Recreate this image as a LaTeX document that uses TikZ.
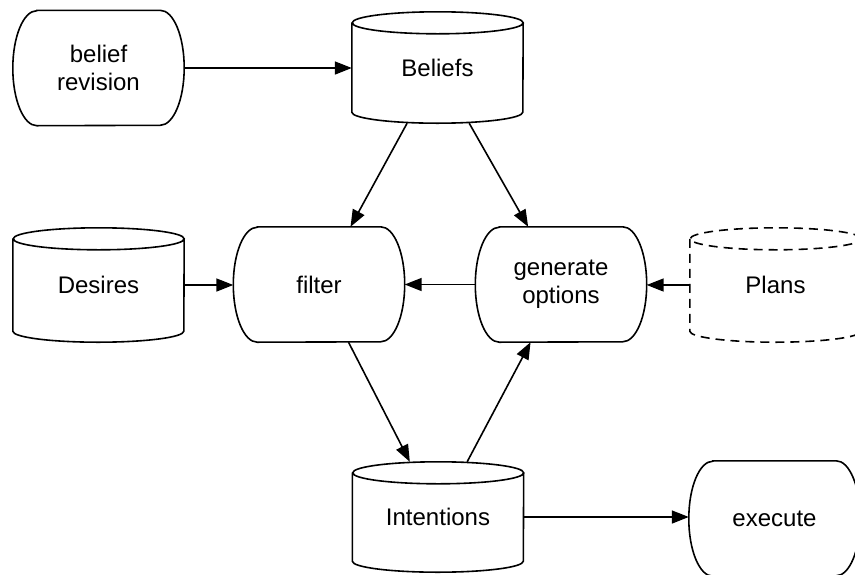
\documentclass[tikz,border=0pt]{standalone}
\usepackage{fontspec}
\setmainfont{Liberation Sans}
\usetikzlibrary{arrows.meta}
\newcommand\cylshape[2][]{\draw[line width=1.6pt,#1] ([yshift=-11pt]#2.north west) -- ([yshift=11pt]#2.south west) arc[start angle=180,end angle=360,x radius=85.5pt,y radius=11pt] -- ([yshift=-11pt]#2.north east) arc[start angle=0,end angle=360,x radius=85.5pt,y radius=11pt];}
\newcommand\procshape[1]{\draw[line width=1.6pt] ([xshift=24pt]#1.north west) -- ([xshift=-24pt]#1.north east) arc[start angle=90,end angle=-90,x radius=24pt,y radius=57.5pt] -- ([xshift=24pt]#1.south west) arc[start angle=270,end angle=90,x radius=24pt,y radius=57.5pt] -- cycle;}
\begin{document}
\begin{tikzpicture}[x=1pt,y=1pt,
  every node/.style={font=\fontsize{24}{28}\selectfont, align=center},
  blk/.style={minimum width=171pt, minimum height=115pt, inner sep=0pt},
  cylblk/.style={minimum width=171pt, inner sep=0pt},
  arr/.style={line width=1.6pt, -{Triangle[length=17pt,width=13pt]}},
]
\useasboundingbox (0,0) rectangle (855,-574);
\node[blk] (br) at (98.5,-68) {belief\\revision};
\node[cylblk, minimum height=111pt] (beliefs) at (437.5,-67.5) {\raisebox{-4.5pt}{Beliefs}};
\node[cylblk, minimum height=114pt] (desires) at (98.5,-285) {\raisebox{-4.5pt}{Desires}};
\node[blk] (filter) at (319,-284.5) {filter};
\node[blk] (gen) at (561,-284.5) {generate\\options};
\node[cylblk, minimum height=114pt] (plans) at (775.5,-285) {\raisebox{-4.5pt}{Plans}};
\node[cylblk, minimum height=110pt] (int) at (438,-517) {\raisebox{-4.5pt}{Intentions}};
\node[blk] (exec) at (774.5,-518.5) {execute};

\procshape{br}
\procshape{filter}
\procshape{gen}
\procshape{exec}
\cylshape{beliefs}
\cylshape{desires}
\cylshape{int}
\cylshape[dash pattern=on 9pt off 6pt]{plans}

\draw[arr] (br.east) -- (br.east -| beliefs.west);
\draw[arr] (beliefs) -- (filter);
\draw[arr] (beliefs) -- (gen);
\draw[arr] (desires.east) -- (desires.east -| filter.west);
\draw[arr] (gen.west) -- (gen.west -| filter.east);
\draw[arr] (plans.west) -- (plans.west -| gen.east);
\draw[arr] (filter) -- (int);
\draw[arr] (int) -- (gen);
\draw[arr] (int.east) -- (int.east -| exec.west);
\end{tikzpicture}
\end{document}
